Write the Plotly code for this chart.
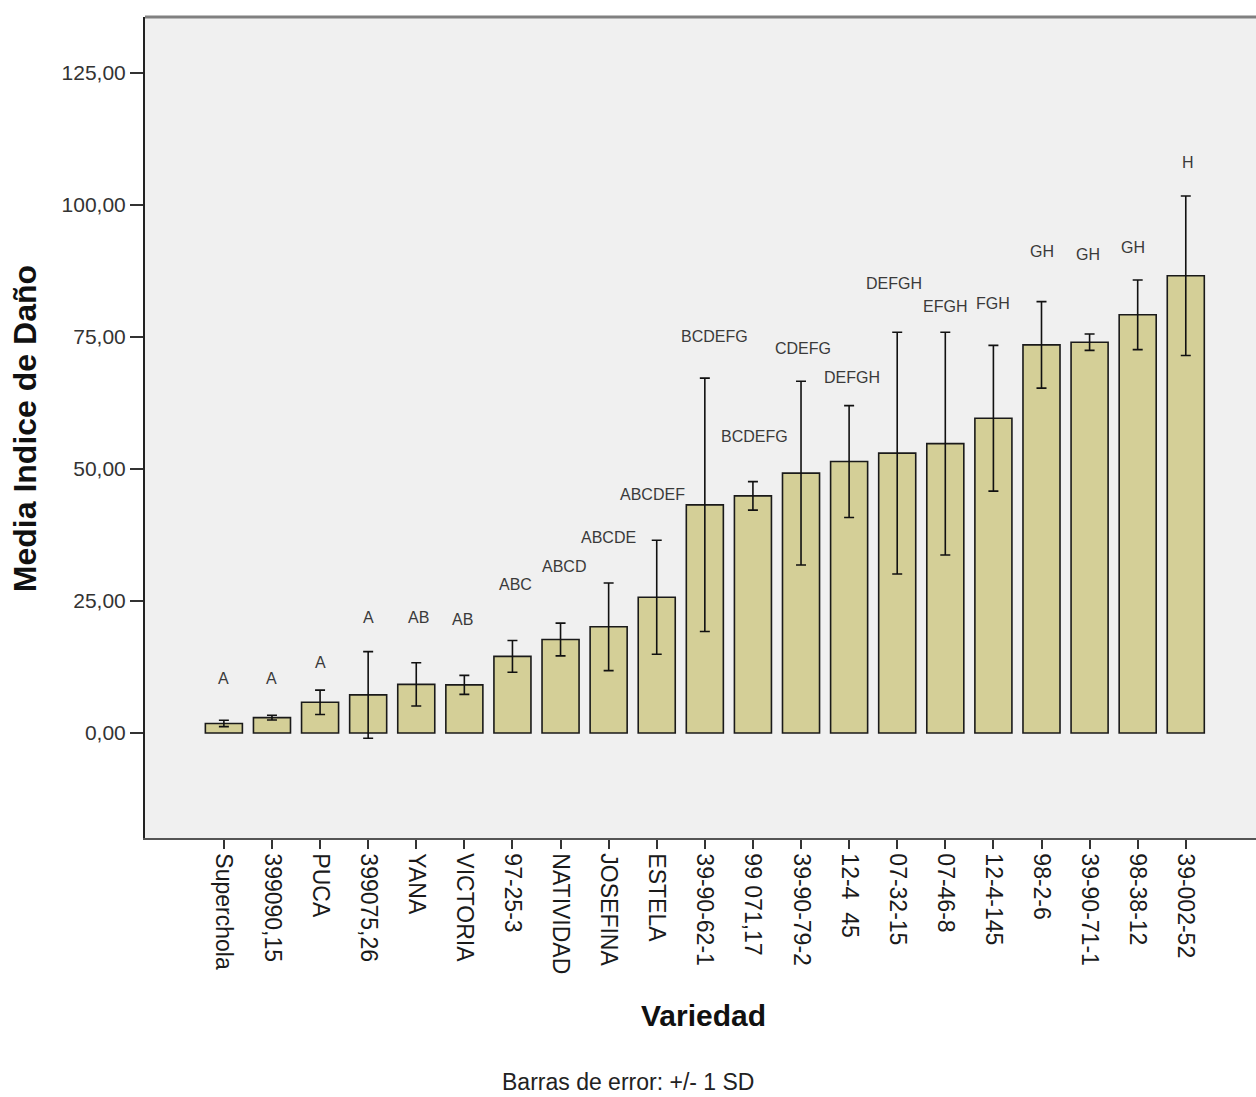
import plotly.graph_objects as go

# Varieties ordered by mean damage index
variedades = ["Superchola", "399090,15", "PUCA", "399075,26", "YANA", "VICTORIA",
              "97-25-3", "NATIVIDAD", "JOSEFINA", "ESTELA", "39-90-62-1", "99 071,17",
              "39-90-79-2", "12-4  45", "07-32-15", "07-46-8", "12-4-145", "98-2-6",
              "39-90-71-1", "98-38-12", "39-002-52"]
medias = [1.8, 2.9, 5.8, 7.2, 9.2, 9.1, 14.5, 17.7, 20.1, 25.7, 43.2, 44.9,
          49.2, 51.4, 53.0, 54.8, 59.6, 73.5, 74.0, 79.2, 86.6]
desv_std = [0.6, 0.45, 2.3, 8.2, 4.1, 1.8, 3.0, 3.1, 8.3, 10.8, 24.0, 2.7,
            17.4, 10.6, 22.9, 21.1, 13.8, 8.2, 1.55, 6.6, 15.1]
# Tukey grouping letters
grupos = ["A", "A", "A", "A", "AB", "AB", "ABC", "ABCD", "ABCDE", "ABCDEF",
          "BCDEFG", "BCDEFG", "CDEFG", "DEFGH", "DEFGH", "EFGH", "FGH",
          "GH", "GH", "GH", "H"]
# Height (in axis units) at which each group letter is written
altura_letras = [10.4, 10.4, 13.4, 21.8, 21.8, 21.5, 28.2, 31.6, 37.1, 45.1,
                 75.0, 56.1, 72.9, 67.4, 85.2, 80.7, 81.4, 91.1, 90.7, 92.0, 108.1]
# Small horizontal nudges (px) for letters
desplaz_letras = [0, 0, 0, 0, 2, -2, 3, 3, 0, -4, 10, 2, 2, 3, -3, 0, 0, 0, -2, -5, 2]

fig = go.Figure()
fig.add_trace(go.Bar(
    x=list(range(len(variedades))),
    y=medias,
    width=0.77,
    marker=dict(color="#d4cf97", line=dict(color="#1a1a1a", width=1.6)),
    error_y=dict(type="data", array=desv_std, visible=True,
                 color="#111111", thickness=1.6, width=5),
    showlegend=False,
))

for i, (g, h, dx) in enumerate(zip(grupos, altura_letras, desplaz_letras)):
    fig.add_annotation(x=i, y=h, text=g, showarrow=False, xshift=dx,
                       font=dict(family="Liberation Sans, Arial", size=16, color="#3a3a3a"))

fig.update_layout(
    width=1256, height=1097,
    margin=dict(l=145, r=0, t=17, b=259),
    paper_bgcolor="white",
    plot_bgcolor="#f0f0f0",
    separators=",.",
    font=dict(family="Liberation Sans, Arial", color="#333333"),
    bargap=0.2,
)
fig.update_xaxes(
    range=[-1.64, 21.46],
    tickmode="array",
    tickvals=list(range(len(variedades))),
    ticktext=variedades,
    tickangle=90,
    ticks="outside", ticklen=9, tickwidth=1.5, tickcolor="#333333",
    tickfont=dict(size=23, color="#1a1a1a"),
    showline=True, linecolor="#555555", linewidth=1.5,
    showgrid=False, zeroline=False,
)
fig.update_yaxes(
    range=[-19.9, 135.6],
    tickvals=[0, 25, 50, 75, 100, 125],
    tickformat=".2f",
    ticks="outside", ticklen=13, tickwidth=2, tickcolor="#333333",
    tickfont=dict(size=21, color="#333333"),
    showline=True, linecolor="#222222", linewidth=2,
    showgrid=False, zeroline=False,
)
# top border of the plot frame
fig.add_shape(type="line", xref="paper", yref="paper", x0=0, x1=1, y0=1, y1=1,
              line=dict(color="#808080", width=3))

fig.add_annotation(xref="paper", yref="paper", x=-0.108, y=0.498,
                   xanchor="center", yanchor="middle",
                   text="<b>Media Indice de Daño</b>", textangle=-90, showarrow=False,
                   font=dict(size=32, color="#111111"))
fig.add_annotation(xref="paper", yref="paper", x=0.503, y=-0.2156,
                   xanchor="center", yanchor="middle",
                   text="<b>Variedad</b>", showarrow=False,
                   font=dict(size=30, color="#111111"))
fig.add_annotation(xref="paper", yref="paper", x=0.435, y=-0.297,
                   xanchor="center", yanchor="middle",
                   text="Barras de error: +/- 1 SD", showarrow=False,
                   font=dict(size=23, color="#222222"))

fig.write_html("out.html")
